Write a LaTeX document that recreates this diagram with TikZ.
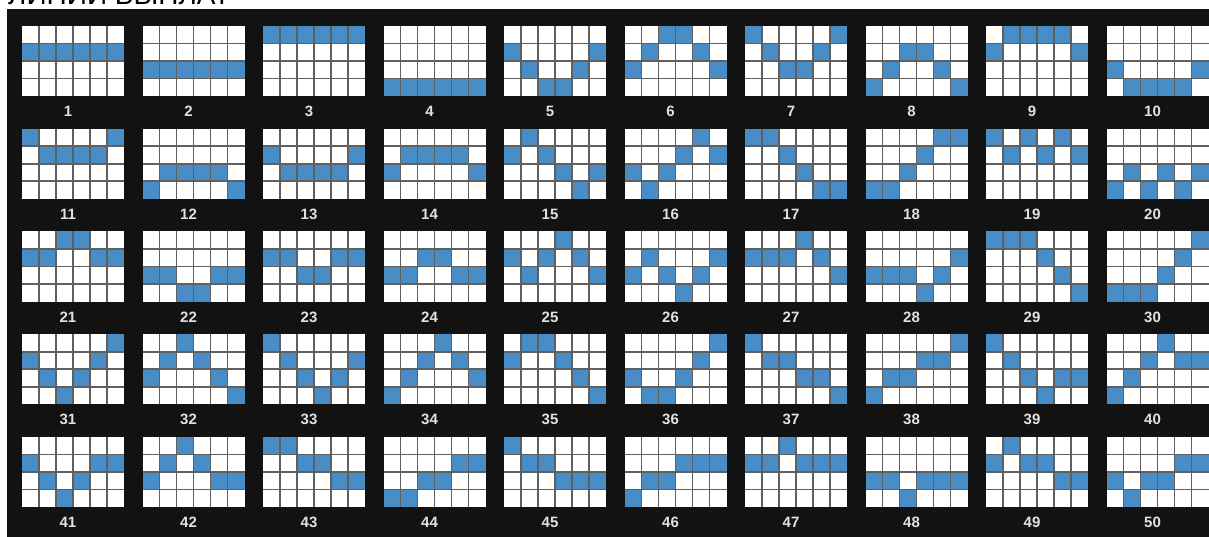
\documentclass[tikz,border=0pt]{standalone}
\usepackage{fontspec}
\setmainfont{Liberation Sans}

\definecolor{lineblue}{RGB}{72,141,197}
\definecolor{panelblack}{RGB}{18,18,18}
\definecolor{rulegray}{RGB}{95,95,95}
\definecolor{numgray}{RGB}{225,225,225}

\begin{document}
\begin{tikzpicture}[
  x=1pt, y=-1pt,
  panel/.style={fill=panelblack},
  reelbox/.style={fill=white},
  paycell/.style={fill=lineblue},
  gridrule/.style={draw=rulegray, line width=1.6pt},
  linenum/.style={text=numgray, font=\bfseries\fontsize{15}{15}\selectfont},
  heading/.style={anchor=base west, inner sep=0pt, font=\fontsize{28}{28}\selectfont}
]

% Page and black panel.
\useasboundingbox (0,0) rectangle (1209,537);
\fill[white] (0,0) rectangle (1209,537);
\fill[panel] (7,9) rectangle (1209,537);

% Heading, cut off by the top edge.
\node[heading] (title) at (8,5) {ЛИНИИ ВЫПЛАТ};

% The 50 pay lines: active row (1 = top) on each of the six reels.
\foreach \ra/\rb/\rc/\rd/\rf/\rg [count=\n] in {%
  2/2/2/2/2/2,3/3/3/3/3/3,1/1/1/1/1/1,4/4/4/4/4/4,2/3/4/4/3/2,%
  3/2/1/1/2/3,1/2/3/3/2/1,4/3/2/2/3/4,2/1/1/1/1/2,3/4/4/4/4/3,%
  1/2/2/2/2/1,4/3/3/3/3/4,2/3/3/3/3/2,3/2/2/2/2/3,2/1/2/3/4/3,%
  3/4/3/2/1/2,1/1/2/3/4/4,4/4/3/2/1/1,1/2/1/2/1/2,4/3/4/3/4/3,%
  2/2/1/1/2/2,3/3/4/4/3/3,2/2/3/3/2/2,3/3/2/2/3/3,2/3/2/1/2/3,%
  3/2/3/4/3/2,2/2/2/1/2/3,3/3/3/4/3/2,1/1/1/2/3/4,4/4/4/3/2/1,%
  2/3/4/3/2/1,3/2/1/2/3/4,1/2/3/4/3/2,4/3/2/1/2/3,2/1/1/2/3/4,%
  3/4/4/3/2/1,1/2/2/3/3/4,4/3/3/2/2/1,1/2/3/4/3/3,4/3/2/1/2/2,%
  2/3/4/3/2/2,3/2/1/2/3/3,1/1/2/2/3/3,4/4/3/3/2/2,1/2/2/3/3/3,%
  4/3/3/2/2/2,2/2/1/2/2/2,3/3/4/3/3/3,2/1/2/2/3/3,3/4/3/3/2/2%
}{
  \pgfmathtruncatemacro\col{mod(\n-1,10)}
  \pgfmathtruncatemacro\row{div(\n-1,10)}
  \pgfmathsetmacro\gx{22+120.5*\col}
  \pgfmathsetmacro\gy{26+102.75*\row}
  \fill[reelbox] (\gx,\gy) rectangle ++(102,70);
  \foreach \lvl [count=\reel] in {\ra,\rb,\rc,\rd,\rf,\rg}
    \fill[paycell] ({\gx+17*(\reel-1)},{\gy+17.5*(\lvl-1)}) rectangle ++(17,17.5);
  \foreach \k in {1,...,5}
    \draw[gridrule] ({\gx+17*\k},\gy) -- ++(0,70);
  \foreach \k in {1,2,3}
    \draw[gridrule] (\gx,{\gy+17.5*\k}) -- ++(102,0);
  \node[linenum] (num\n) at ({\gx+46},{\gy+85.5}) {\n};
}

\end{tikzpicture}
\end{document}
